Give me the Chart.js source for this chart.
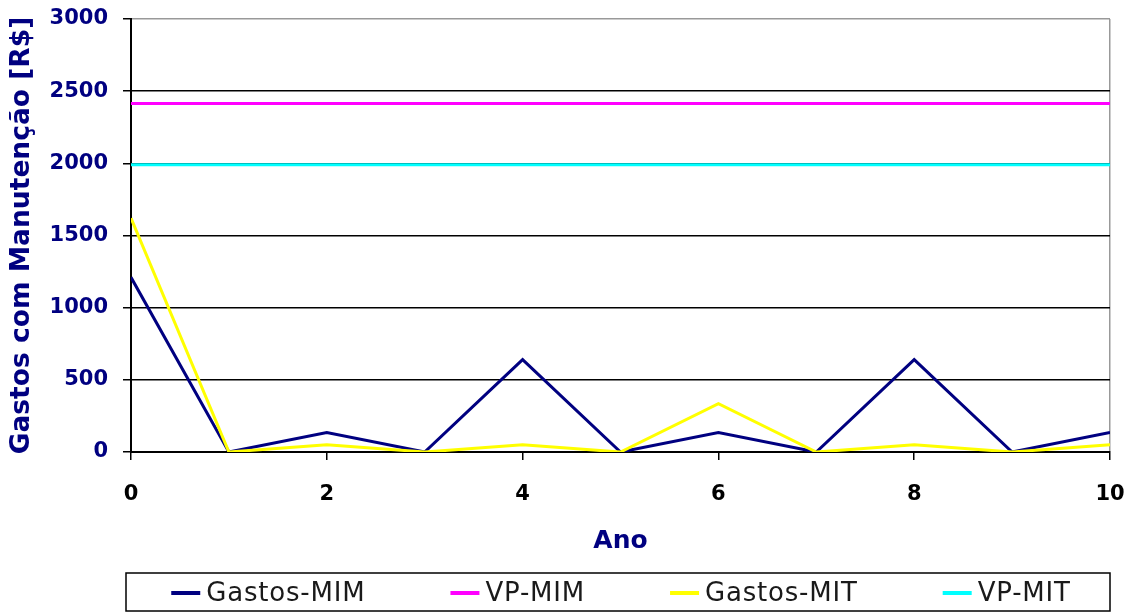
<!DOCTYPE html>
<html>
<head>
<meta charset="utf-8">
<script src="https://cdn.jsdelivr.net/npm/chart.js@4/dist/chart.umd.min.js"></script>
<style>
  html, body { margin: 0; padding: 0; background: #ffffff; }
  canvas { display: block; }
</style>
</head>
<body>
<canvas id="c" width="1135" height="612"></canvas>
<script>
// ---- data ----
const years = [0, 1, 2, 3, 4, 5, 6, 7, 8, 9, 10];
const gastosMIM = [1210, 0, 135, 0, 640, 0, 135, 0, 640, 0, 135];
const vpMIM     = [2415, 2415, 2415, 2415, 2415, 2415, 2415, 2415, 2415, 2415, 2415];
const gastosMIT = [1620, 0, 50, 0, 50, 0, 335, 0, 50, 0, 50];
const vpMIT     = [1990, 1990, 1990, 1990, 1990, 1990, 1990, 1990, 1990, 1990, 1990];
const seriesNames = ['Gastos-MIM', 'VP-MIM', 'Gastos-MIT', 'VP-MIT'];
const seriesColors = ['#000080', '#FF00FF', '#FFFF00', '#00FFFF'];
const xTitle = 'Ano';
const yTitle = 'Gastos com Manutenção [R$]';

const seriesValues = [gastosMIM, vpMIM, gastosMIT, vpMIT];
const toPoints = arr => arr.map((v, i) => ({ x: years[i], y: v }));

const datasets = seriesValues.map((vals, i) => ({
  label: seriesNames[i],
  data: toPoints(vals),
  borderColor: seriesColors[i],
  backgroundColor: seriesColors[i],
  borderWidth: 3,
  pointRadius: 0,
  tension: 0,
  order: seriesValues.length - i
}));

const FONT = '"DejaVu Sans", Verdana, sans-serif';

const legendBox = {
  id: 'legendBox',
  afterDraw(chart) {
    const ctx = chart.ctx;
    const a = chart.chartArea;
    const left = a.left - 5, right = a.right;
    const top = chart.height - 39, bottom = chart.height - 1;
    ctx.save();
    ctx.strokeStyle = '#000';
    ctx.lineWidth = 1.5;
    ctx.strokeRect(left, top, right - left, bottom - top);
    ctx.font = '26px ' + FONT;
    try { ctx.letterSpacing = '0.8px'; } catch (e) {}
    const boxW = 29, gap = 6, pad = 85;
    const items = chart.data.datasets.map(d => ({
      text: d.label, color: d.borderColor, w: ctx.measureText(d.label).width
    }));
    const total = items.reduce((s, it) => s + boxW + gap + it.w, 0) + pad * (items.length - 1);
    let x = (left + right) / 2 - total / 2 + 3;
    const cy = (top + bottom) / 2 + 1;
    ctx.textBaseline = 'middle';
    ctx.textAlign = 'left';
    items.forEach(it => {
      ctx.fillStyle = it.color;
      ctx.fillRect(x, cy - 2, boxW, 4);
      ctx.fillStyle = '#1a1a1a';
      ctx.fillText(it.text, x + boxW + gap, cy + 1);
      x += boxW + gap + it.w + pad;
    });
    ctx.restore();
  }
};

const zeroPad = s => { s.paddingLeft = 0; s.paddingRight = 0; s.paddingTop = 0; s.paddingBottom = 0; };

new Chart(document.getElementById('c'), {
  type: 'line',
  data: { datasets },
  plugins: [legendBox],
  options: {
    responsive: false,
    animation: false,
    devicePixelRatio: 1,
    layout: { padding: { left: 6, top: 19, right: 25, bottom: 56 } },
    plugins: { legend: { display: false }, tooltip: { enabled: false } },
    scales: {
      x: {
        type: 'linear',
        min: 0, max: 10,
        ticks: {
          stepSize: 2, color: '#000', padding: 22, maxRotation: 0,
          font: { family: FONT, size: 21, weight: 'bold' },
          callback: v => String(v)
        },
        grid: {
          color: c => (c.tick && c.tick.value === 10) ? '#999999' : 'rgba(0,0,0,0)',
          tickColor: '#000', tickLength: 8, lineWidth: 1.5
        },
        border: { color: '#000', width: 2 },
        title: {
          display: true, text: xTitle, color: '#000080', padding: 0,
          font: { family: FONT, size: 25, weight: 'bold' }
        },
        afterFit: s => { s.height = 104; zeroPad(s); }
      },
      y: {
        min: 0, max: 3000,
        ticks: {
          stepSize: 500, color: '#000080', padding: 15,
          font: { family: FONT, size: 21, weight: 'bold' },
          callback: v => String(v)
        },
        grid: {
          color: c => (c.tick && c.tick.value === 3000) ? '#999999' : '#000000',
          tickColor: '#000', tickLength: 8, lineWidth: 1.5
        },
        border: { color: '#000', width: 2 },
        title: {
          display: true, text: yTitle, color: '#000080', padding: 0,
          font: { family: FONT, size: 26.5, weight: 'bold' }
        },
        afterFit: s => { s.width = 125; zeroPad(s); }
      }
    }
  }
});
</script>
</body>
</html>
